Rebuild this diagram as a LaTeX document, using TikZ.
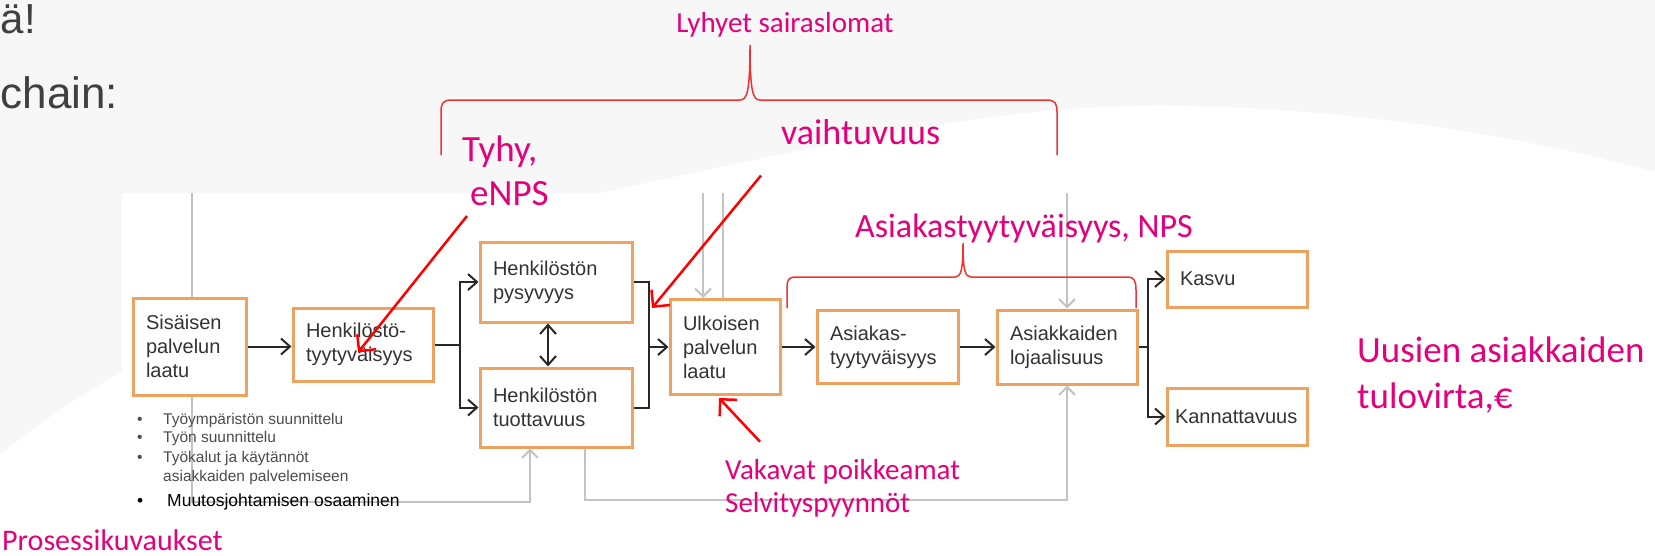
\documentclass[tikz,border=0pt]{standalone}
\usepackage{fontspec}
\setmainfont{Liberation Sans}
\newfontfamily\calibri{Carlito}
\usetikzlibrary{positioning, arrows.meta}

\definecolor{boxorange}{RGB}{238,162,96}
\definecolor{boxtext}{RGB}{51,51,51}
\definecolor{arrowblack}{RGB}{40,40,40}
\definecolor{pinktext}{RGB}{228,0,124}
\definecolor{feedgray}{RGB}{195,195,195}
\definecolor{slidegray}{RGB}{247,247,247}
\definecolor{titlegray}{RGB}{64,64,64}
\definecolor{bracered}{RGB}{240,50,50}

\tikzstyle{box} = [rectangle, draw=boxorange, line width=3pt, fill=white, text=boxtext, align=left, inner xsep=13pt, inner ysep=2pt, font=\fontsize{20}{24}\selectfont]
\tikzstyle{arrow} = [draw=arrowblack, line width=2pt, ->, >={Straight Barb[length=9pt,width=16pt]}]
\tikzstyle{link} = [draw=arrowblack, line width=2pt]
\tikzstyle{feed} = [draw=feedgray, line width=2pt, >={Straight Barb[length=8pt,width=16pt]}]
\tikzstyle{redarrow} = [draw=red, line width=2.5pt, ->, >={Straight Barb[length=12pt,width=24pt]}]
\tikzstyle{brace} = [draw=bracered, line width=1.5pt]
\tikzstyle{note} = [text=pinktext, inner sep=0pt, anchor=base west]
\tikzstyle{bullet} = [text=black!70, inner sep=0pt, anchor=base west, font=\fontsize{15.5}{18}\selectfont]

\begin{document}
\begin{tikzpicture}[x=1pt, y=-1pt, node distance=170pt]
	% slide background
	\useasboundingbox (0,0) rectangle (1655,555);
	\fill [slidegray] (0,0) rectangle (1655,555);
	\fill [white] (0,455) .. controls (150,330) and (400,240) .. (600,193) .. controls (800,150) and (950,115) .. (1100,107) .. controls (1300,100) and (1500,130) .. (1655,172) -- (1655,555) -- (0,555) -- cycle;
	\fill [white] (122,193) rectangle (1320,520);
	\node (titleA) [anchor=base west, inner sep=0pt, text=titlegray, font=\fontsize{42}{50}\selectfont] at (0.5,33) {ä!};
	\node (titleB) [anchor=base west, inner sep=0pt, text=titlegray, font=\fontsize{44}{52}\selectfont] at (0.5,108) {chain:};

	% service profit chain
	\node (sisainen) [box, minimum width=113pt, minimum height=97pt, text width=87pt] at (189.5,346.5) {Sisäisen\\palvelun\\laatu};
	\node (tyytyv) [box, minimum width=140pt, minimum height=73pt, text width=114pt, right of=sisainen, xshift=3.5pt, yshift=2pt] {Henkilöstö-\\tyytyväisyys};
	\node (pysyv) [box, minimum width=152pt, minimum height=80pt, text width=126pt, right of=tyytyv, xshift=23pt, yshift=62.5pt] {Henkilöstön\\pysyvyys};
	\node (tuott) [box, minimum width=152pt, minimum height=79pt, text width=126pt, right of=tyytyv, xshift=23pt, yshift=-63pt] {Henkilöstön\\tuottavuus};
	\node (ulkoinen) [box, minimum width=110pt, minimum height=95pt, text width=84pt, right of=tyytyv, xshift=192pt, yshift=-2.5pt] {Ulkoisen\\palvelun\\laatu};
	\node (asiakas) [box, minimum width=141pt, minimum height=73pt, text width=115pt, right of=ulkoinen, xshift=-7.5pt] {Asiakas-\\tyytyväisyys};
	\node (lojaal) [box, minimum width=140pt, minimum height=74pt, text width=114pt, right of=asiakas, xshift=9.5pt] {Asiakkaiden\\lojaalisuus};
	\node (kasvu) [box, minimum width=140pt, minimum height=56pt, text width=114pt, right of=lojaal, yshift=68pt] {Kasvu};
	\node (kannatt) [box, minimum width=140pt, minimum height=57pt, text width=124pt, inner xsep=8pt, right of=lojaal, yshift=-69.5pt] {Kannattavuus};

	\coordinate (split1) at (460,344.5);
	\coordinate (merge1) at (649,347);
	\coordinate (split2) at (1148,347);
	\draw [arrow] (sisainen.east) -- (sisainen.east -| tyytyv.west);
	\draw [link] (tyytyv.east) -- (split1);
	\draw [arrow] (split1) |- (pysyv.west);
	\draw [arrow] (split1) |- (tuott.west);
	\draw [arrow, <->] ([xshift=-8pt]pysyv.south) -- ([xshift=-8pt]tuott.north);
	\draw [link] (pysyv.east) -| (merge1) |- (tuott.east);
	\draw [arrow] (merge1) -- (ulkoinen.west);
	\draw [arrow] (ulkoinen.east) -- (ulkoinen.east -| asiakas.west);
	\draw [arrow] (asiakas.east) -- (asiakas.east -| lojaal.west);
	\draw [link] (lojaal.east) -- (split2);
	\draw [arrow] (split2) |- (kasvu.west);
	\draw [arrow] (split2) |- (kannatt.west);

	% feedback lines
	\coordinate (feedA) at (192,193);
	\coordinate (feedB) at (703,193);
	\coordinate (feedC) at (723,193);
	\coordinate (feedD) at (1067,193);
	\draw [feed] (feedA) -- (feedA |- sisainen.north);
	\draw [feed, ->] ([xshift=2.5pt]sisainen.south) -- ++(0,105) -| ([xshift=-26pt]tuott.south);
	\draw [feed, ->] ([xshift=29pt]tuott.south) -- ++(0,51) -| (lojaal.south);
	\draw [feed, ->] (feedB) -- (feedB |- ulkoinen.north);
	\draw [feed] (feedC) -- (feedC |- ulkoinen.north);
	\draw [feed, ->] (feedD) -- (lojaal.north);

	% bullet list
	\node (tyoymp) [bullet] at (137,424) {\makebox[26pt][l]{•}Työympäristön suunnittelu};
	\node (tyon) [bullet] at (137,442) {\makebox[26pt][l]{•}Työn suunnittelu};
	\node (tyokalut) [bullet] at (137,462) {\makebox[26pt][l]{•}Työkalut ja käytännöt};
	\node (palvel) [bullet] at (163,481.5) {asiakkaiden palvelemiseen};
	\node (muutos) [bullet, text=black, font=\fontsize{17.5}{21}\selectfont] at (137,506) {\makebox[30pt][l]{•}Muutosjohtamisen osaaminen};

	% annotations
	\node (lyhyet) [note, anchor=base, font=\calibri\fontsize{29}{34}\selectfont] at (785,32) {Lyhyet sairaslomat};
	\node (tyhy) [note, font=\calibri\fontsize{37}{44}\selectfont] at (462,161) {Tyhy,};
	\node (enps) [note, font=\calibri\fontsize{37}{44}\selectfont] at (470,205.5) {eNPS};
	\node (vaiht) [note, font=\calibri\fontsize{36}{43}\selectfont] at (781,144) {vaihtuvuus};
	\node (asiaknps) [note, font=\calibri\fontsize{34}{40}\selectfont] at (855,237) {Asiakastyytyväisyys, NPS};
	\node (vakavat) [note, font=\calibri\fontsize{29}{34}\selectfont] at (725,479) {Vakavat poikkeamat};
	\node (selvitys) [note, font=\calibri\fontsize{29}{34}\selectfont] at (725,512) {Selvityspyynnöt};
	\node (uusien) [note, font=\calibri\fontsize{37}{44}\selectfont] at (1357,362) {Uusien asiakkaiden};
	\node (tulovirta) [note, font=\calibri\fontsize{37}{44}\selectfont] at (1357,408) {tulovirta,€};
	\node (prosessi) [note, font=\calibri\fontsize{30}{36}\selectfont] at (2,550) {Prosessikuvaukset};

	% braces
	\draw [brace] (441,155) -- (441,112) .. controls (441,103) and (443,100) .. (452,100) -- (740,100) .. controls (747,100) and (750,92) .. (750,45) .. controls (750,92) and (753,100) .. (760,100) -- (1046,100) .. controls (1055,100) and (1057,103) .. (1057,112) -- (1057,155);
	\draw [brace] (787,308) -- (787,287) .. controls (787,280) and (789,277) .. (795,277) -- (955,277) .. controls (961,277) and (963,270) .. (963,243) .. controls (963,270) and (965,277) .. (971,277) -- (1128,277) .. controls (1134,277) and (1136,281) .. (1136,290) -- (1136,308);

	% red arrows
	\draw [redarrow] ([shift={(-3,10)}]enps.south west) -- ([shift={(-5,8)}]tyytyv.center);
	\draw [redarrow] ([shift={(-20,31)}]vaiht.south west) -- ([shift={(3,-39)}]merge1);
	\draw [redarrow] ([shift={(35,-17)}]vakavat.north west) -- ([shift={(-6,2)}]ulkoinen.south);

\end{tikzpicture}
\end{document}
